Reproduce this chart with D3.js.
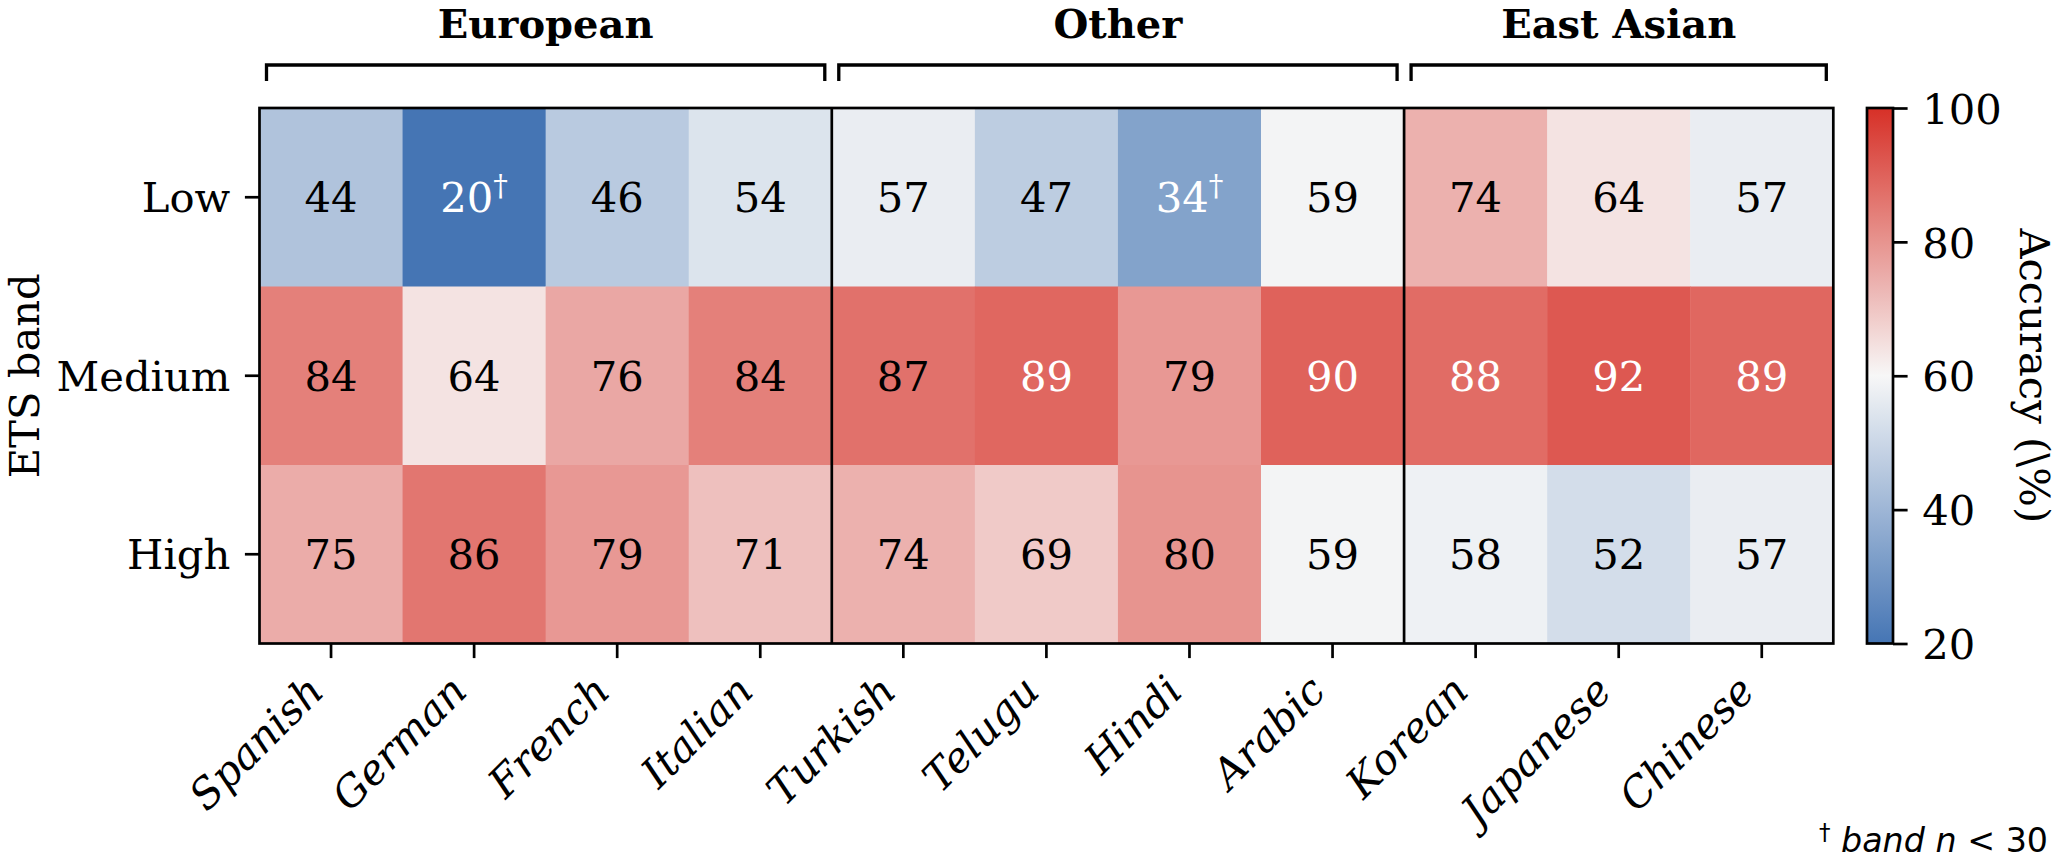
<!DOCTYPE html>
<html>
<head>
<meta charset="utf-8">
<script src="https://cdn.jsdelivr.net/npm/d3@7"></script>
<style>
  body { margin: 0; background: #fff; }
  text { font-family: "DejaVu Serif", serif; fill: #000; }
</style>
</head>
<body>
<div id="heatmap"></div>
<script>
// data
const languages = ["Spanish", "German", "French", "Italian", "Turkish", "Telugu", "Hindi", "Arabic", "Korean", "Japanese", "Chinese"];
const groupNames = ["European", "Other", "East Asian"];
const groupSizes = [4, 4, 3];
const bands = ["Low", "Medium", "High"];
const lowAcc = [44, 20, 46, 54, 57, 47, 34, 59, 74, 64, 57];
const mediumAcc = [84, 64, 76, 84, 87, 89, 79, 90, 88, 92, 89];
const highAcc = [75, 86, 79, 71, 74, 69, 80, 59, 58, 52, 57];
const smallN = [["Low", "German"], ["Low", "Hindi"]];
const cbTicks = [20, 40, 60, 80, 100];

const W = 2061, H = 859;
const fs = 41.7;           // 10pt at 300 dpi
const tickLen = 14.6, pad = 14.6;
const hm = {left: 259.5, right: 1833.3, top: 108, bottom: 643.5};
const cb = {left: 1867, right: 1893};

const svg = d3.select("#heatmap").append("svg")
    .attr("width", W).attr("height", H);

const accByBand = {Low: lowAcc, Medium: mediumAcc, High: highAcc};
const cells = [];
bands.forEach(b => languages.forEach((l, i) => {
    cells.push({band: b, lang: l, value: accByBand[b][i],
        flag: smallN.some(s => s[0] === b && s[1] === l)});
}));

const x = d3.scaleBand().domain(languages).range([hm.left, hm.right]);
const y = d3.scaleBand().domain(bands).range([hm.top, hm.bottom]);
const color = d3.scaleLinear().domain([20, 60, 100])
    .range(["#4575b4", "#f7f7f7", "#d73027"]).clamp(true);

// cells
svg.append("g").selectAll("rect")
    .data(cells)
    .join("rect")
        .attr("x", d => x(d.lang))
        .attr("y", d => y(d.band))
        .attr("width", x.bandwidth() + 0.5)
        .attr("height", y.bandwidth() + 0.5)
        .attr("fill", d => color(d.value));

// annotations
const ann = svg.append("g").selectAll("text")
    .data(cells)
    .join("text")
        .attr("x", d => x(d.lang) + x.bandwidth() / 2)
        .attr("y", d => y(d.band) + y.bandwidth() / 2 + fs * 0.364)
        .attr("text-anchor", "middle")
        .style("font-size", fs + "px")
        .style("fill", d => (d.value < 40 || d.value > 87) ? "#fff" : "#000");
ann.append("tspan").text(d => d.value);
ann.filter(d => d.flag).append("tspan")
    .attr("dy", -fs * 0.4)
    .style("font-size", (fs * 0.7) + "px")
    .text("\u2020");

// group separators and brackets
let start = 0;
const groupSpans = groupNames.map((g, i) => {
    const s = {name: g, first: languages[start], last: languages[start + groupSizes[i] - 1]};
    start += groupSizes[i];
    return s;
});

svg.append("g").selectAll("line")
    .data(groupSpans.slice(1))
    .join("line")
        .attr("x1", d => x(d.first)).attr("x2", d => x(d.first))
        .attr("y1", hm.top).attr("y2", hm.bottom)
        .attr("stroke", "#000").attr("stroke-width", 2.7);

const brY = 65, brTick = 16, inset = 7;
const br = svg.append("g").selectAll("g")
    .data(groupSpans)
    .join("g");
br.append("path")
    .attr("d", d => {
        const x0 = x(d.first) + inset, x1 = x(d.last) + x.bandwidth() - inset;
        return `M${x0},${brY + brTick}V${brY}H${x1}V${brY + brTick}`;
    })
    .attr("fill", "none").attr("stroke", "#000").attr("stroke-width", 3.3);
br.append("text")
    .attr("x", d => (x(d.first) + x(d.last) + x.bandwidth()) / 2)
    .attr("y", 38)
    .attr("text-anchor", "middle")
    .style("font-size", "40px")
    .style("font-weight", "bold")
    .text(d => d.name);

// frame
svg.append("rect")
    .attr("x", hm.left).attr("y", hm.top)
    .attr("width", hm.right - hm.left).attr("height", hm.bottom - hm.top)
    .attr("fill", "none").attr("stroke", "#000").attr("stroke-width", 2.7);

// x axis
const xAxis = svg.append("g")
    .attr("transform", `translate(0,${hm.bottom})`)
    .call(d3.axisBottom(x).tickSize(tickLen).tickPadding(0));
xAxis.select(".domain").remove();
xAxis.selectAll("line").attr("stroke", "#000").attr("stroke-width", 2.7);
xAxis.selectAll("text")
    .attr("y", null).attr("dy", null)
    .attr("text-anchor", "end")
    .attr("transform", "translate(-5,50) rotate(-45)")
    .style("font-family", "DejaVu Serif")
    .style("font-style", "italic")
    .style("font-size", fs + "px");

// y axis
const yAxis = svg.append("g")
    .attr("transform", `translate(${hm.left},0)`)
    .call(d3.axisLeft(y).tickSize(tickLen).tickPadding(pad));
yAxis.select(".domain").remove();
yAxis.selectAll("line").attr("stroke", "#000").attr("stroke-width", 2.7);
yAxis.selectAll("text")
    .attr("dy", null).attr("y", fs * 0.364)
    .style("font-family", "DejaVu Serif")
    .style("font-size", fs + "px");

svg.append("text")
    .attr("transform", `translate(39,${(hm.top + hm.bottom) / 2}) rotate(-90)`)
    .attr("text-anchor", "middle")
    .style("font-size", fs + "px")
    .text("ETS band");

// colorbar
const cbScale = d3.scaleLinear().domain([20, 100]).range([hm.bottom, hm.top]);
const grad = svg.append("defs").append("linearGradient")
    .attr("id", "cbgrad").attr("x1", 0).attr("y1", 1).attr("x2", 0).attr("y2", 0);
grad.selectAll("stop")
    .data(d3.range(0, 1.0001, 0.05))
    .join("stop")
        .attr("offset", d => d)
        .attr("stop-color", d => color(20 + d * 80));
svg.append("rect")
    .attr("x", cb.left).attr("y", hm.top)
    .attr("width", cb.right - cb.left).attr("height", hm.bottom - hm.top)
    .attr("fill", "url(#cbgrad)")
    .attr("stroke", "#000").attr("stroke-width", 2.7);

const cbAxis = svg.append("g")
    .attr("transform", `translate(${cb.right},0)`)
    .call(d3.axisRight(cbScale).tickValues(cbTicks).tickSize(tickLen).tickPadding(pad));
cbAxis.select(".domain").remove();
cbAxis.selectAll("line").attr("stroke", "#000").attr("stroke-width", 2.7);
cbAxis.selectAll("text")
    .attr("dy", null).attr("y", fs * 0.364)
    .style("font-family", "DejaVu Serif")
    .style("font-size", fs + "px");

svg.append("text")
    .attr("transform", `translate(2020,${(hm.top + hm.bottom) / 2}) rotate(90)`)
    .attr("text-anchor", "middle")
    .style("font-size", fs + "px")
    .text("Accuracy (\\%)");

// footnote
const note = svg.append("text")
    .attr("x", 2048).attr("y", 852)
    .attr("text-anchor", "end")
    .style("font-family", "DejaVu Sans")
    .style("font-size", "33.3px");
note.append("tspan").attr("dy", -12).style("font-size", "23px").text("\u2020");
note.append("tspan").attr("dy", 12).text(" ");
note.append("tspan").style("font-style", "italic").text("band");
note.append("tspan").text(" ");
note.append("tspan").style("font-style", "italic").text("n");
note.append("tspan").text(" < 30");
</script>
</body>
</html>
